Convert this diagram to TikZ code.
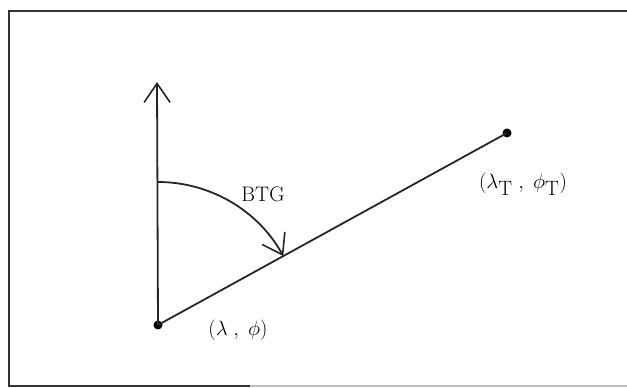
\documentclass[tikz,border=0pt]{standalone}
\usetikzlibrary{arrows.meta}
\begin{document}
\begin{tikzpicture}[x=1pt,y=1pt,
  ln/.style={line width=1.8pt,black!85},
  frm/.style={line width=2pt,black!80},
  dot/.style={circle,fill=black,inner sep=0pt,minimum size=9pt},
  lbl/.style={font=\fontsize{21}{25}\selectfont,inner sep=0pt},
  barb/.style={-{Straight Barb[length=19pt,width=26pt,line width=1.6pt]}}]
\useasboundingbox (0,0) rectangle (627,388);
% frame
\coordinate (FTL) at (9,377);
\coordinate (FTR) at (627,377);
\coordinate (FBL) at (9,2);
\coordinate (FBM) at (250,2);
\coordinate (FBR) at (627,2);
\draw[frm] (FTR) -- (FTL) -- (FBL) -- (FBM);
\draw[line width=1.4pt,black!25] (FBM) -- (FBR);
% points
\node[dot] (O) at (158,63) {};
\node[dot] (T) at (507,255) {};
\coordinate (N) at (157,306);
\coordinate (A) at (158,206);
% lines
\draw[ln,barb] (O.center) -- (N);
\draw[ln] (O.center) -- (T.center);
\draw[ln,barb] (A) arc[start angle=90,end angle=28.81,radius=143];
% labels
\node[lbl] (btg) at (263,194) {BTG};
\node[lbl] (lo) at (238,58) {$(\lambda\;,\;\phi)$};
\node[lbl] (lt) at (523,204) {$(\lambda_{\textstyle\mathrm T}\;,\;\phi_{\textstyle\mathrm T})$};
\end{tikzpicture}
\end{document}
